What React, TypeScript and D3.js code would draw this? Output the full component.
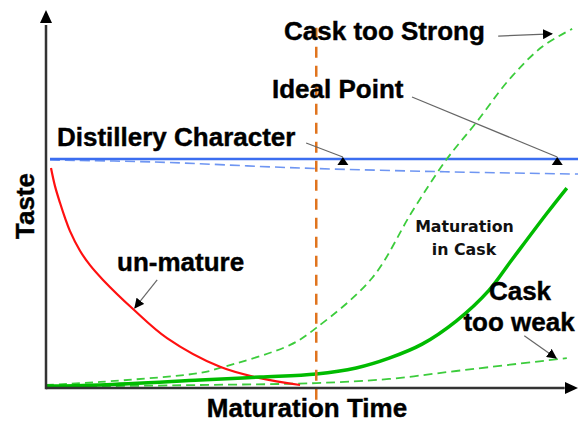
import { useEffect, useRef } from 'react';
import * as d3 from 'd3';

// curves: maturation time (0-100) vs taste (0-100)
const unMature = [
  [0.94, 58.2], [1.69, 53.4], [2.63, 49.0], [3.57, 45.0], [4.51, 41.5], [6.39, 36.3],
  [8.27, 32.5], [10.72, 28.6], [16.36, 20.9], [22.75, 13.2], [32.71, 5.6], [40.23, 2.6], [47.75, 0.8],
];
const caskStrong = [
  [0, 0.8], [10.2, 1.6], [29.0, 4.0], [32.7, 5.3], [45.9, 11.4], [50.8, 15.9],
  [61.3, 29.1], [68.8, 46.6], [75.2, 60.3], [80.8, 70.1], [87.0, 81.5], [93.2, 90.2], [98.9, 95.0],
];
const maturation = [
  [0, 0.5], [10.2, 0.8], [29.0, 2.1], [40.2, 2.9], [50.8, 3.7], [58.3, 5.3], [64.5, 7.9],
  [70.7, 11.6], [77.1, 17.7], [83.3, 25.9], [87.4, 33.6], [94.2, 46.3], [97.9, 52.9],
];
const caskWeak = [
  [0, 0.3], [29.0, 0.8], [50.8, 1.3], [64.5, 2.4], [77.1, 4.5], [97.9, 7.9],
];
const distillery = [[0.75, 60.6], [100, 60.6]];
const distilleryDrift = [[0.75, 60.3], [20, 59.8], [47.8, 58.2], [75, 57.2], [100, 56.6]];
const idealTime = 50.8;

export default function App() {
  const width = 579;
  const height = 422;
  const x = d3.scaleLinear().domain([0, 100]).range([46, 578]);
  const y = d3.scaleLinear().domain([0, 100]).range([388, 10]);

  const line = d3.line<number[]>()
    .x(d => x(d[0]))
    .y(d => y(d[1]))
    .curve(d3.curveCatmullRom.alpha(0.5));
  const straight = d3.line<number[]>().x(d => x(d[0])).y(d => y(d[1]));

  const gx = useRef<SVGGElement>(null);
  const gy = useRef<SVGGElement>(null);
  useEffect(() => {
    // plain axes, no ticks
    const ax = d3.select(gx.current);
    ax.selectAll('*').remove();
    ax.append('line').attr('x1', x(0)).attr('x2', x(97.5)).attr('y1', y(0)).attr('y2', y(0))
      .attr('stroke', '#333').attr('stroke-width', 2.5);
    ax.append('path').attr('d', `M${x(100)},${y(0)} l-13,-6 l0,12 z`).attr('fill', '#000');
    const ay = d3.select(gy.current);
    ay.selectAll('*').remove();
    ay.append('line').attr('x1', x(0)).attr('x2', x(0)).attr('y1', y(-0.3)).attr('y2', y(96))
      .attr('stroke', '#333').attr('stroke-width', 2.5);
    ay.append('path').attr('d', `M${x(0)},${y(100)} l-6,13 l12,0 z`).attr('fill', '#000');
  }, []);

  const arrow = (a: number[], b: number[], marker: string) => (
    <line x1={x(a[0])} y1={y(a[1])} x2={x(b[0])} y2={y(b[1])}
      stroke="#666" strokeWidth={1.2} markerEnd={`url(#${marker})`} />
  );

  const big = {
    fontFamily: '"Liberation Sans", Arial, sans-serif', fontWeight: 'bold', fontSize: 26,
    fill: '#000', stroke: '#000', strokeWidth: 0.4,
  };
  const small = {
    fontFamily: '"DejaVu Sans", Verdana, sans-serif', fontWeight: 'bold', fontSize: 15.8, fill: '#111',
  };

  return (
    <svg width={width} height={height} style={{ position: 'absolute', left: 0, top: 0, background: '#fff' }}>
      <defs>
        <marker id="head" viewBox="0 0 10 10" refX="9" refY="5" markerWidth="10" markerHeight="10"
          markerUnits="userSpaceOnUse" orient="auto">
          <path d="M0,0 L10,5 L0,10 z" fill="#000" />
        </marker>
        <marker id="tri" viewBox="-6 -1 12 10" refX="0" refY="0" markerWidth="12" markerHeight="10"
          markerUnits="userSpaceOnUse" orient="0">
          <path d="M0,0 L5.5,8 L-5.5,8 z" fill="#000" />
        </marker>
      </defs>

      <path d={line(distilleryDrift) ?? ''} fill="none" stroke="#6f96f2" strokeWidth={1.6} strokeDasharray="10,5" />
      <path d={straight(distillery) ?? ''} fill="none" stroke="#3b6ef0" strokeWidth={2.6} />

      <path d={line(caskWeak) ?? ''} fill="none" stroke="#3ccc3c" strokeWidth={1.8} strokeDasharray="9,5" />
      <path d={line(caskStrong) ?? ''} fill="none" stroke="#3ccc3c" strokeWidth={1.8} strokeDasharray="8,5" />
      <path d={line(unMature) ?? ''} fill="none" stroke="#ff1010" strokeWidth={2.2} />
      <path d={line(maturation) ?? ''} fill="none" stroke="#00bb00" strokeWidth={3.5} />

      <line x1={x(idealTime)} x2={x(idealTime)} y1={y(95.3)} y2={y(-3.7)}
        stroke="#e0741e" strokeWidth={2.5} strokeDasharray="11,8" />

      <g ref={gx}></g>
      <g ref={gy}></g>

      {arrow([85.0, 93.1], [95.1, 93.7], 'head')}
      {arrow([48.9, 64.8], [55.8, 61.1], 'tri')}
      {arrow([68.8, 77.0], [96.1, 61.1], 'tri')}
      {arrow([20.9, 28.6], [16.7, 21.2], 'head')}
      {arrow([89.9, 13.8], [95.9, 7.9], 'head')}

      <text x={284} y={39.5} style={big}>Cask too Strong</text>
      <text x={272} y={98} style={big}>Ideal Point</text>
      <text x={57} y={146} style={big}>Distillery Character</text>
      <text x={117} y={271} style={big}>un-mature</text>
      <text x={520} y={300} textAnchor="middle" style={big}>Cask</text>
      <text x={519} y={331} textAnchor="middle" style={big}>too weak</text>
      <text x={307} y={416.5} textAnchor="middle" style={big}>Maturation Time</text>
      <text transform="translate(34,206) rotate(-90)" textAnchor="middle" style={big}>Taste</text>
      <text x={464.5} y={232} textAnchor="middle" style={small}>Maturation</text>
      <text x={464} y={255} textAnchor="middle" style={small}>in Cask</text>
    </svg>
  );
}
